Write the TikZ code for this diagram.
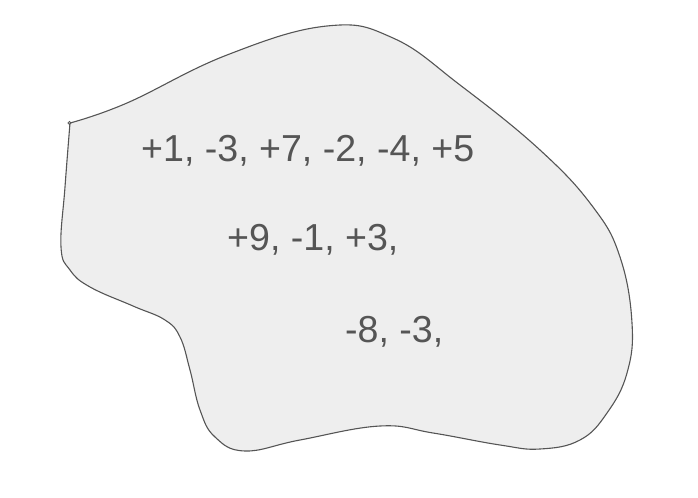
\documentclass[tikz,border=0pt]{standalone}
\usepackage{fontspec}
\setmainfont{Liberation Sans}
\usepackage{tikz}

\definecolor{blobfill}{HTML}{EEEEEE}
\definecolor{blobline}{HTML}{555555}
\definecolor{numtext}{HTML}{555555}

\tikzset{
    numrow/.style={anchor=base west, inner sep=0pt, text=numtext,
        font=\fontsize{37.7}{45}\selectfont}
}

\begin{document}
\begin{tikzpicture}[x=1bp, y=-1bp]
                \useasboundingbox (0,0) rectangle (698,498);

                % Blob outline
                \draw[blobline, fill=blobfill, line width=1.1bp]
                    plot[smooth, tension=0.7] coordinates {
                        (70,123) (127,103) (227,55) (327,26) (393,38) (460,85)
                        (540,150) (593,207) (620,257) (632,323) (627,373)
                        (607,413) (580,440) (540,449) (500,445) (433,433)
                        (380,426) (300,440) (245,451) (215,437) (200,410)
                        (190,370) (180,337) (165,320) (133,306) (90,287)
                        (70,270) (61,247) (65,187) (70,123)} -- cycle;

                % Little curl at the start
                \draw[blobline, line width=0.8bp] (69.5,123) circle[radius=1.6];

                % Number rows
                \node[numrow] (rowa) at (141,162) {+1, -3, +7, -2, -4, +5};
                \node[numrow] (rowb) at (227,251) {+9, -1, +3,};
                \node[numrow] (rowc) at (345,342) {-8, -3,};
\end{tikzpicture}
\end{document}
